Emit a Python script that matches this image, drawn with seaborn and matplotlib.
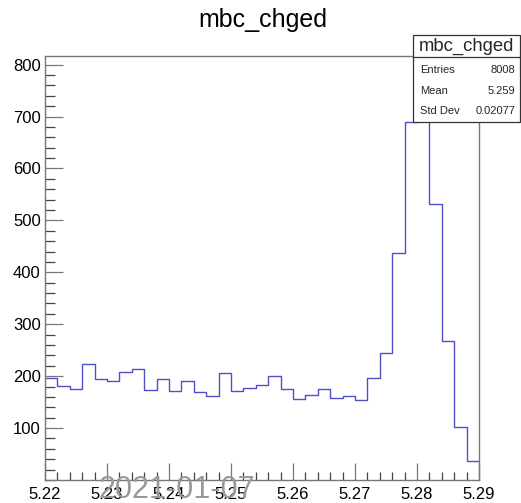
import numpy as np
import pandas as pd
import seaborn as sns
import matplotlib
matplotlib.use("Agg")
import matplotlib.pyplot as plt
from matplotlib.ticker import MultipleLocator, FixedLocator, FixedFormatter
from matplotlib import font_manager

# ---- data ----
bin_edges = [round(5.22 + 0.002 * i, 3) for i in range(36)]
counts = [196, 181, 176, 223, 195, 190, 209, 214, 173, 195,
          171, 191, 169, 161, 207, 171, 178, 183, 201, 176,
          156, 163, 176, 158, 161, 154, 197, 244, 437, 690,
          778, 532, 268, 102, 37]
title = "mbc_chged"
stats_labels = ["Entries", "Mean", "Std Dev"]
stats_values = ["8008", "5.259", "0.02077"]
x_ticks = [5.22, 5.23, 5.24, 5.25, 5.26, 5.27, 5.28, 5.29]
x_ticklabels = ["5.22", "5.23", "5.24", "5.25", "5.26", "5.27", "5.28", "5.29"]
y_ticks = [100, 200, 300, 400, 500, 600, 700, 800]
y_ticklabels = ["100", "200", "300", "400", "500", "600", "700", "800"]
date_text = "2021-01-07"

centers = [(bin_edges[i] + bin_edges[i + 1]) / 2 for i in range(len(counts))]
df = pd.DataFrame({"x": centers, "w": counts})

sns.set_theme(style="white")
FONT = ["Liberation Sans", "DejaVu Sans"]
plt.rcParams["font.family"] = FONT

fig = plt.figure(figsize=(5.21, 5.03), dpi=100)
ax = fig.add_axes([0.0864, 0.0457, 0.9193 - 0.0864, 0.889 - 0.0457])

sns.histplot(data=df, x="x", weights="w", bins=bin_edges, element="step",
             fill=False, color="#5050c8", linewidth=1.0, ax=ax)

ax.set_xlim(5.22, 5.29)
ax.set_ylim(0, 817)
ax.set_xlabel("")
ax.set_ylabel("")

ax.xaxis.set_major_locator(FixedLocator(x_ticks))
ax.xaxis.set_major_formatter(FixedFormatter(x_ticklabels))
ax.xaxis.set_minor_locator(MultipleLocator(0.002))
ax.yaxis.set_major_locator(FixedLocator(y_ticks))
ax.yaxis.set_major_formatter(FixedFormatter(y_ticklabels))
ax.yaxis.set_minor_locator(MultipleLocator(20))

ax.tick_params(axis="both", which="both", bottom=True, left=True,
               top=False, right=False)
ax.tick_params(axis="both", which="major", direction="in", length=12,
               width=0.9, color="#777777", labelsize=12, labelcolor="black")
ax.tick_params(axis="both", which="minor", direction="in", length=6,
               width=0.9, color="#444444")
ax.tick_params(axis="y", which="major", length=13, pad=3)
ax.tick_params(axis="y", which="minor", length=7)
ax.tick_params(axis="x", which="major", pad=5)

for s in ax.spines.values():
    s.set_color("#777777")
    s.set_linewidth(1.0)

# title
fig.text(0.505, 0.960, title, ha="center", va="center", fontsize=18,
         family=FONT, color="black")

# stats box
bx0, bx1 = 413 / 521, 520 / 521
by_top, by_bot = 1 - 35 / 503, 1 - 122 / 503
by_div = 1 - 57.3 / 503
box = plt.Rectangle((bx0, by_bot), bx1 - bx0, by_top - by_bot,
                    transform=fig.transFigure, facecolor="white",
                    edgecolor="#333333", linewidth=0.9, zorder=10)
fig.add_artist(box)
fig.add_artist(plt.Line2D([bx0, bx1], [by_div, by_div], transform=fig.transFigure,
                          color="#333333", linewidth=0.9, zorder=11))
fig.text((bx0 + bx1) / 2, 1 - 46.5 / 503, title, ha="center", va="center",
         fontsize=13.3, family=FONT, zorder=12)
row_y = [70, 91, 111.5]
for lab, val, ry in zip(stats_labels, stats_values, row_y):
    fig.text(420.5 / 521, 1 - ry / 503, lab, ha="left", va="center",
             fontsize=8, family=FONT, zorder=12)
    fig.text(515.5 / 521, 1 - ry / 503, val, ha="right", va="center",
             fontsize=8, family=FONT, zorder=12)

# date watermark
names = {f.name for f in font_manager.fontManager.ttflist}
if "Liberation Sans Narrow" in names:
    dfam, dsize = ["Liberation Sans Narrow", "DejaVu Sans"], 29.5
else:
    dfam, dsize = ["Liberation Sans", "DejaVu Sans"], 22
fig.text(176.5 / 521, 1 - 475 / 503, date_text, ha="center", va="top",
         fontsize=dsize, family=dfam, color="#999999", zorder=20)

fig.savefig("out.png", dpi=100)
